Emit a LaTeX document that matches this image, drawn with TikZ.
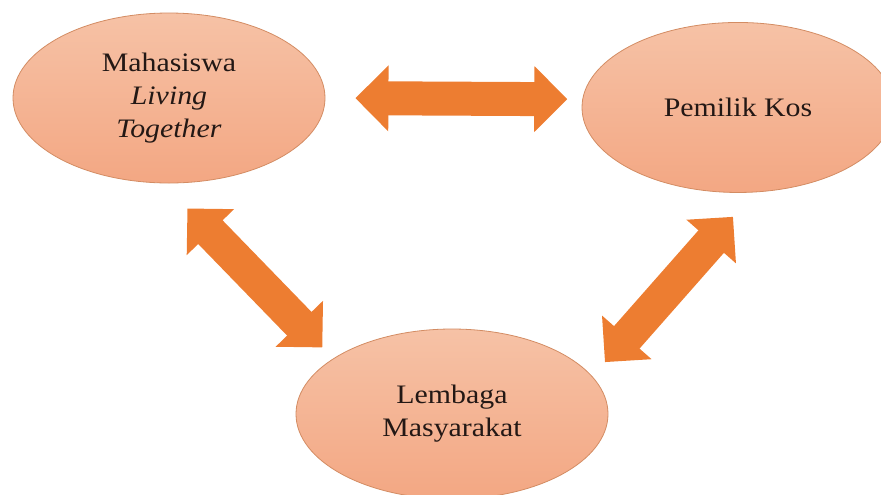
\documentclass[tikz,border=0pt]{standalone}
\usepackage{fontspec}
\setmainfont{Liberation Serif}[FakeStretch=1.12]
\usepackage{tikz}
\usetikzlibrary{shapes.geometric, arrows.meta, positioning}
\definecolor{bubbletop}{HTML}{F6C2A6}
\definecolor{bubblebottom}{HTML}{F3A783}
\definecolor{bubbleline}{HTML}{D38C63}
\definecolor{arrowfill}{HTML}{ED7D31}
\definecolor{labeltext}{HTML}{231815}
\tikzstyle{actor} = [ellipse, minimum width=234pt, minimum height=127.5pt, inner sep=0pt, top color=bubbletop, bottom color=bubblebottom, draw=bubbleline, line width=0.6pt, text=labeltext, align=center, font=\fontsize{20pt}{24.75pt}\selectfont]
\tikzstyle{biarrow} = [line width=25.5pt, draw=arrowfill, arrows={Triangle[length=24.75pt,width=48pt]-Triangle[length=24.75pt,width=48pt]}]

\begin{document}
\begin{tikzpicture}[x=0.75pt, y=-0.75pt]
	\useasboundingbox (0,0) rectangle (881,494);
	\node (mhs) [actor] at (169,98) {Mahasiswa\\\textit{Living}\\\textit{Together}};
	\node (kos) [actor, on grid, right=426.75pt of mhs, yshift=-7.1pt] {Pemilik Kos};
	\node (lem) [actor, on grid, below right=237pt and 212.25pt of mhs] {Lembaga\\Masyarakat};

	\draw [biarrow, shorten <=22.5pt, shorten >=11.25pt] (mhs.east) -- (kos.177);
	\draw [biarrow, shorten <=26.25pt, shorten >=11.6pt] (mhs.266) -- (lem.155);
	\draw [biarrow, shorten <=14.25pt, shorten >=24.4pt] (lem.15) -- (kos.281);
\end{tikzpicture}
\end{document}
